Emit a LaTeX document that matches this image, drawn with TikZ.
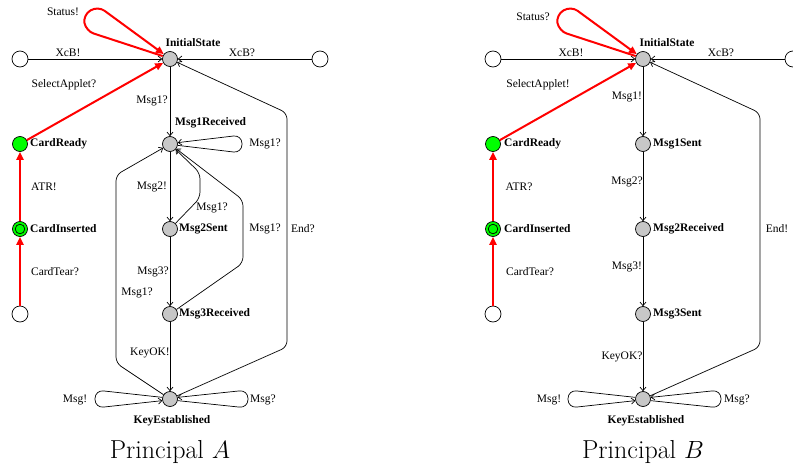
\documentclass[tikz,border=0pt]{standalone}
\usepackage{fontspec}
\newfontfamily\tms{Liberation Serif}
\usetikzlibrary{arrows.meta}
\tikzset{
  st/.style={circle,draw,fill=black!22,minimum size=15pt,inner sep=0pt,line width=0.7pt},
  wst/.style={circle,draw,fill=white,minimum size=16pt,inner sep=0pt,line width=0.7pt},
  gst/.style={circle,draw,fill=green,minimum size=15pt,inner sep=0pt,line width=0.7pt},
  dblst/.style={gst,path picture={\draw[line width=0.7pt] (path picture bounding box.center) circle (4.8pt);}},
  lbl/.style={font=\tms\fontsize{11.5}{13}\selectfont,inner sep=1pt},
  blbl/.style={font=\tms\bfseries\fontsize{11.5}{13}\selectfont,inner sep=1pt},
  captxt/.style={font=\fontsize{26}{30}\selectfont,inner sep=0pt,anchor=base},
  bedge/.style={draw,line width=0.7pt,-{Straight Barb[length=3.5pt,width=6pt]},rounded corners=6pt},
  bloop/.style={bedge,rounded corners=8.5pt},
  redge/.style={draw=red,line width=2pt,-{Triangle[length=8pt,width=7pt]},rounded corners=8pt},
}
\begin{document}
\begin{tikzpicture}[x=1pt,y=-1pt]
\useasboundingbox (0,0) rectangle (793,466);
\clip (0,0) rectangle (793,466);
% ================= Principal A =================
\begin{scope}[name prefix=A-]
\node[st] (is) at (170,59) {};
\node[wst] (wl) at (20,59) {};
\node[wst] (wr) at (320,59) {};
\node[gst] (cr) at (20,144) {};
\node[dblst] (ci) at (20,229) {};
\node[wst] (wb) at (20,314) {};
\node[st] (m1) at (170,144) {};
\node[st] (m2) at (170,229) {};
\node[st] (m3) at (170,314) {};
\node[st] (ke) at (170,399) {};
% state labels
\node[blbl] (lis) at (193,43) {InitialState};
\node[blbl,anchor=west] (lcr) at (29,144) {CardReady};
\node[blbl,anchor=west] (lci) at (29,229) {CardInserted};
\node[blbl,anchor=west] (lm1) at (174,123) {Msg1Received};
\node[blbl,anchor=west] (lm2) at (178,229) {Msg2Sent};
\node[blbl,anchor=west] (lm3) at (178,314) {Msg3Received};
\node[blbl] (lke) at (172,421) {KeyEstablished};
% edges
\draw[bedge] (wl) -- (is);
\draw[bedge] (wr) -- (is);
\draw[redge] (wb) -- (ci);
\draw[redge] (ci) -- (cr);
\draw[redge] (cr) -- (is);
\draw[redge] (is.158) -- (86,31) -- (83,15) -- (98,6) -- (is.142);
\draw[bedge] (is) -- (m1);
\draw[bedge] (m1) -- (m2);
\draw[bedge] (m2) -- (m3);
\draw[bedge] (m3) -- (ke);
\draw[bloop] (m1.-10) -- (242,153) -- (242,135) -- (m1.10);
\draw[bedge] (m2) -- (200,198) -- (200,173) -- (m1);
\draw[bedge] (m3) -- (243,263) -- (243,200) -- (m1);
\draw[bedge] (ke) -- (116,363) -- (116,175) -- (m1);
\draw[bedge] (ke) -- (287,347) -- (287,113) -- (is);
\draw[bloop] (ke.168) -- (95,390) -- (95,408) -- (ke.192);
\draw[bloop] (ke.-12) -- (248,408) -- (248,390) -- (ke.12);
% edge labels
\node[lbl] (t1) at (63,12) {Status!};
\node[lbl] (t2) at (68,53) {XcB!};
\node[lbl] (t3) at (242,53) {XcB?};
\node[lbl] (t4) at (64,85) {SelectApplet?};
\node[lbl] (t5) at (44,187) {ATR!};
\node[lbl] (t6) at (55,272) {CardTear?};
\node[lbl] (t7) at (152,101) {Msg1?};
\node[lbl] (t8) at (265,144) {Msg1?};
\node[lbl] (t9) at (152,187) {Msg2!};
\node[lbl] (t10) at (212,208) {Msg1?};
\node[lbl] (t11) at (265,229) {Msg1?};
\node[lbl] (t12) at (303,229) {End?};
\node[lbl] (t13) at (153,272) {Msg3?};
\node[lbl] (t14) at (137,293) {Msg1?};
\node[lbl] (t15) at (150,353) {KeyOK!};
\node[lbl] (t16) at (75,400) {Msg!};
\node[lbl] (t17) at (263,400) {Msg?};
\node[captxt] (capA) at (170,458) {Principal $A$};
\end{scope}
% ================= Principal B =================
\begin{scope}[xshift=473pt,name prefix=B-]
\node[st] (is) at (170,59) {};
\node[wst] (wl) at (20,59) {};
\node[wst] (wr) at (320,59) {};
\node[gst] (cr) at (20,144) {};
\node[dblst] (ci) at (20,229) {};
\node[wst] (wb) at (20,314) {};
\node[st] (m1) at (170,144) {};
\node[st] (m2) at (170,229) {};
\node[st] (m3) at (170,314) {};
\node[st] (ke) at (170,399) {};
% state labels
\node[blbl] (lis) at (194,43) {InitialState};
\node[blbl,anchor=west] (lcr) at (30,144) {CardReady};
\node[blbl,anchor=west] (lci) at (30,229) {CardInserted};
\node[blbl,anchor=west] (lm1) at (179,144) {Msg1Sent};
\node[blbl,anchor=west] (lm2) at (179,229) {Msg2Received};
\node[blbl,anchor=west] (lm3) at (179,314) {Msg3Sent};
\node[blbl] (lke) at (173,421) {KeyEstablished};
% edges
\draw[bedge] (wl) -- (is);
\draw[bedge] (wr) -- (is);
\draw[redge] (wb) -- (ci);
\draw[redge] (ci) -- (cr);
\draw[redge] (cr) -- (is);
\draw[redge] (is.158) -- (86,31) -- (83,15) -- (98,6) -- (is.142);
\draw[bedge] (is) -- (m1);
\draw[bedge] (m1) -- (m2);
\draw[bedge] (m2) -- (m3);
\draw[bedge] (m3) -- (ke);
\draw[bedge] (ke) -- (287,347) -- (287,113) -- (is);
\draw[bloop] (ke.168) -- (95,390) -- (95,408) -- (ke.192);
\draw[bloop] (ke.-12) -- (248,408) -- (248,390) -- (ke.12);
% edge labels
\node[lbl] (t1) at (60,17) {Status?};
\node[lbl] (t2) at (98,53) {XcB!};
\node[lbl] (t3) at (248,53) {XcB?};
\node[lbl] (t4) at (65,85) {SelectApplet!};
\node[lbl] (t5) at (46,187) {ATR?};
\node[lbl] (t6) at (57,272) {CardTear?};
\node[lbl] (t7) at (154,97) {Msg1!};
\node[lbl] (t9) at (154,182) {Msg2?};
\node[lbl] (t12) at (304,229) {End!};
\node[lbl] (t13) at (154,267) {Msg3!};
\node[lbl] (t15) at (149,357) {KeyOK?};
\node[lbl] (t16) at (76,400) {Msg!};
\node[lbl] (t17) at (264,400) {Msg?};
\node[captxt] (capB) at (170,458) {Principal $B$};
\end{scope}
\end{tikzpicture}
\end{document}
